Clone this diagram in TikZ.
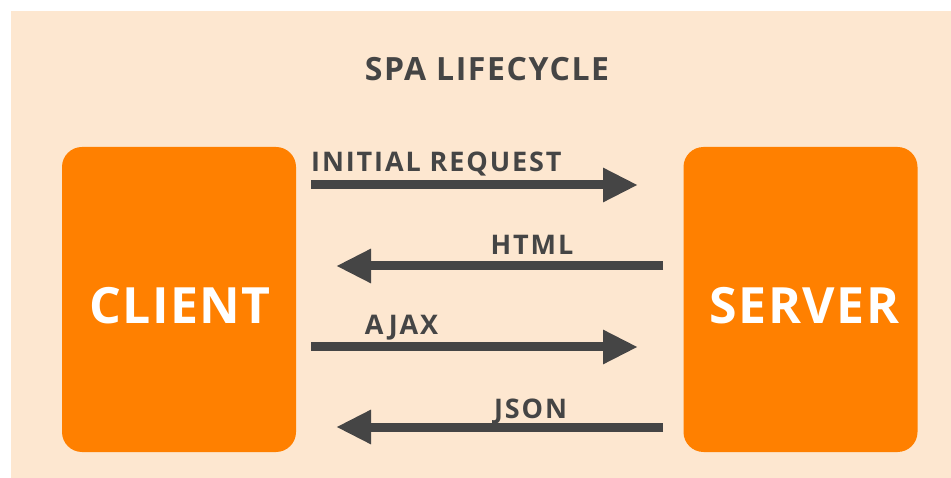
\documentclass[tikz,border=0pt]{standalone}
\usepackage{xcolor}
\usepackage{fontspec}
\setmainfont{Open Sans}
\newfontfamily\flowfont{Open Sans}[LetterSpace=7]
\newfontfamily\titlefont{Open Sans}[LetterSpace=5]
\newfontfamily\peerfont{Open Sans}[LetterSpace=3]
\usepackage{tikz}
\usetikzlibrary{positioning,calc,arrows.meta}

\definecolor{bgpeach}{HTML}{FDE7D0}
\definecolor{boxorange}{HTML}{FF8000}
\definecolor{flowgray}{HTML}{454545}

\begin{document}
\begin{tikzpicture}[x=1pt, y=-1pt,
    peer/.style={fill=boxorange, rounded corners=20pt, minimum width=234pt, minimum height=305pt, inner sep=0pt},
    peertext/.style={text=white, font=\peerfont\fontsize{50}{60}\selectfont\bfseries, inner sep=0pt},
    flowtext/.style={text=flowgray, font=\flowfont\fontsize{27}{32}\selectfont\bfseries, inner sep=0pt},
    flow/.style={draw=flowgray, line width=9pt, -{Triangle[length=35pt, width=32pt]}}]
    \useasboundingbox (0,0) rectangle (951,478);
    \fill [bgpeach] (11,11) rectangle (951,478);

    \node [flowtext, font=\titlefont\fontsize{32}{38}\selectfont\bfseries, anchor=base] (title) at (487, 81) {SPA LIFECYCLE};

    \node [peer] (client) at (179, 299.5) {};
    \node [peer] (server) at (800.5, 299.5) {};
    \node [peertext] (clientname) at ([xshift=1pt, yshift=-6.5pt]client.center) {CLIENT};
    \node [peertext] (servername) at ([xshift=4pt, yshift=-6.5pt]server.center) {SERVER};

    % request / response pairs
    \coordinate (req1) at (311, 185); \coordinate (srv1) at (638, 185);
    \coordinate (srv2) at (663, 266); \coordinate (req2) at (336, 266);
    \coordinate (req3) at (311, 347); \coordinate (srv3) at (638, 347);
    \coordinate (srv4) at (663, 427); \coordinate (req4) at (336, 427);

    \draw [flow] (req1) -- (srv1);
    \draw [flow] (srv2) -- (req2);
    \draw [flow] (req3) -- (srv3);
    \draw [flow] (srv4) -- (req4);

    \node [flowtext, anchor=base west] (initial) at (311, 172) {INITIAL REQUEST};
    \node [flowtext, anchor=base] (html) at (532, 255) {HTML};
    \node [flowtext, anchor=base] (ajax) at (401.5, 335) {AJAX};
    \node [flowtext, anchor=base] (json) at (530.5, 418) {JSON};
\end{tikzpicture}
\end{document}
